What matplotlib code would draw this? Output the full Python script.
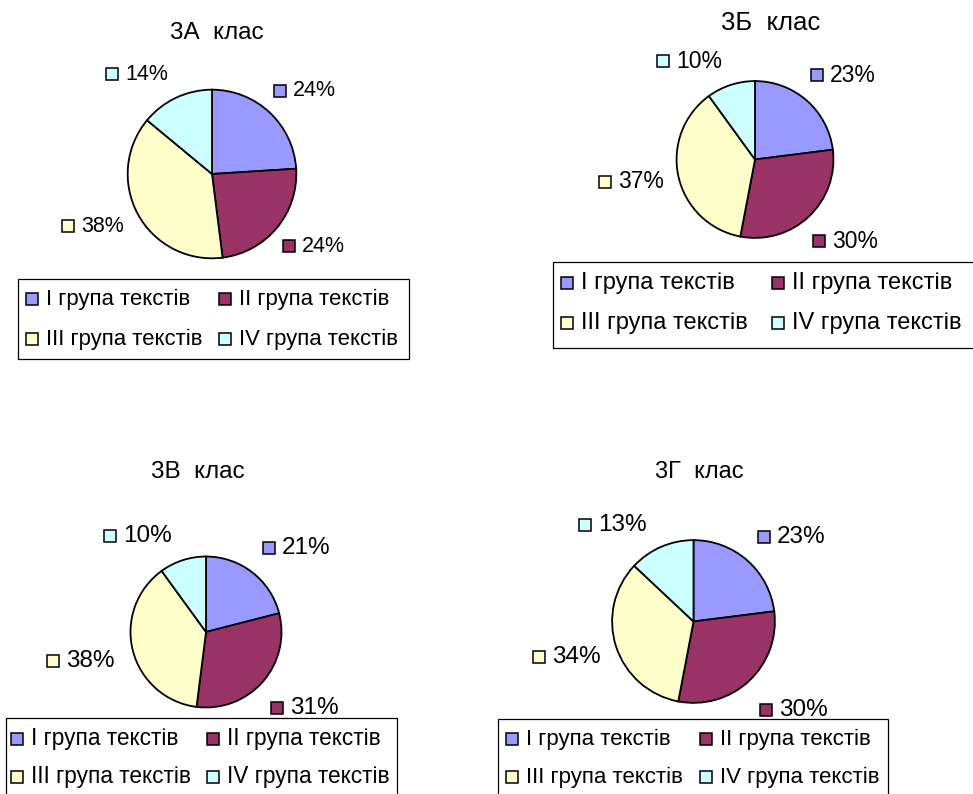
import matplotlib
matplotlib.use("Agg")
import matplotlib.pyplot as plt
from matplotlib.patches import Rectangle

plt.rcParams['font.family'] = ['Liberation Sans', 'DejaVu Sans']

W, H = 973, 794

categories = ["І група текстів", "ІІ група текстів", "ІІІ група текстів", "ІV група текстів"]
colors = ["#9999FF", "#993366", "#FFFFCC", "#CCFFFF"]

titles = ["3А  клас", "3Б  клас", "3В  клас", "3Г  клас"]
values_3a = [24, 24, 38, 14]
values_3b = [23, 30, 37, 10]
values_3v = [21, 31, 38, 10]
values_3g = [23, 30, 34, 13]
all_values = [values_3a, values_3b, values_3v, values_3g]

# layout per chart (pixels): title centre, pie centre & radius,
# label marker centres (I, II, III, IV), legend box and rows, font sizes
layouts = [
    dict(title=(217, 33), pie=(212, 174, 86),
         labels=[(280, 91), (289, 246), (68, 226), (112, 74)],
         box=(18, 279, 409, 359), cols=(32, 225), rows=(299, 339),
         fs_title=17.5, fs_label=15.5, fs_leg=15.9),
    dict(title=(771, 23), pie=(755, 159.5, 80),
         labels=[(817, 75), (819, 241), (605, 182), (663, 61)],
         box=(553, 262, 990, 348), cols=(567, 778), rows=(283, 323),
         fs_title=18.5, fs_label=16.5, fs_leg=17),
    dict(title=(198, 472), pie=(206, 632, 77),
         labels=[(269, 548), (277, 708), (53, 661), (110, 536)],
         box=(6, 718, 397, 810), cols=(17, 213), rows=(739, 777),
         fs_title=17.5, fs_label=17.5, fs_leg=16.3),
    dict(title=(699, 472), pie=(693.5, 621.5, 83),
         labels=[(764, 537), (766, 710), (539, 657), (585, 525)],
         box=(498, 719, 888, 810), cols=(512, 706), rows=(739, 777),
         fs_title=17, fs_label=17.5, fs_leg=16),
]

fig = plt.figure(figsize=(W / 100, H / 100), dpi=100)
fig.patch.set_facecolor("white")

# overlay in pixel coordinates for titles, labels and legends
ov = fig.add_axes([0, 0, 1, 1])
ov.set_xlim(0, W)
ov.set_ylim(H, 0)
ov.axis("off")

MS = 12  # marker square size in px


def square(x, y, color):
    ov.add_patch(Rectangle((x - MS / 2, y - MS / 2), MS, MS, facecolor=color,
                           edgecolor="black", linewidth=1.1, zorder=3))


for title, vals, lay in zip(titles, all_values, layouts):
    ov.text(lay["title"][0], lay["title"][1], title, ha="center", va="center",
            fontsize=lay["fs_title"], color="black")

    cx, cy, r = lay["pie"]
    ax = fig.add_axes([(cx - r) / W, 1 - (cy + r) / H, 2 * r / W, 2 * r / H])
    ax.pie(vals, colors=colors, startangle=90, counterclock=False,
           wedgeprops=dict(edgecolor="black", linewidth=1.3))
    ax.set_xlim(-1.02, 1.02)
    ax.set_ylim(-1.02, 1.02)
    ax.set_aspect("equal")
    ax.axis("off")

    for v, c, (lx, ly) in zip(vals, colors, lay["labels"]):
        square(lx, ly, c)
        ov.text(lx + 13, ly, f"{v}%", ha="left", va="center",
                fontsize=lay["fs_label"], color="black")

    x0, y0, x1, y1 = lay["box"]
    ov.add_patch(Rectangle((x0, y0), x1 - x0, y1 - y0, facecolor="white",
                           edgecolor="black", linewidth=0.9, zorder=1))
    for i, (name, c) in enumerate(zip(categories, colors)):
        mx = lay["cols"][i % 2]
        my = lay["rows"][i // 2]
        square(mx, my, c)
        ov.text(mx + 14, my, name, ha="left", va="center",
                fontsize=lay["fs_leg"], color="black", zorder=4)

fig.savefig("out.png", dpi=100, facecolor="white")
